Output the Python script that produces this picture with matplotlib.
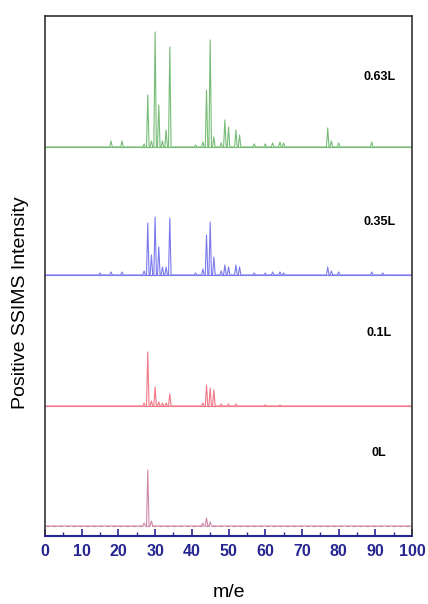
import matplotlib.pyplot as plt
import numpy as np

# stick spectra: m/e positions and peak heights (arbitrary units)
mz_063 = [18, 21, 27, 28, 29, 30, 31, 32, 33, 34, 41, 43, 44, 45, 46, 48, 49, 50, 52, 53, 57, 60, 62, 64, 65, 77, 78, 80, 89]
int_063 = [6, 6, 3, 52, 6, 115, 42, 6, 17, 100, 2, 5, 57, 107, 10, 4, 27, 20, 17, 12, 3, 3, 4, 5, 4, 19, 6, 4, 5]

mz_035 = [15, 18, 21, 27, 28, 29, 30, 31, 32, 33, 34, 41, 43, 44, 45, 46, 48, 49, 50, 52, 53, 57, 60, 62, 64, 65, 77, 78, 80, 89, 92]
int_035 = [2, 3, 3, 4, 52, 20, 58, 28, 8, 8, 57, 2, 6, 40, 53, 18, 4, 10, 8, 10, 8, 2, 2, 3, 3, 2, 8, 4, 3, 3, 2]

mz_01 = [27, 28, 29, 30, 31, 32, 33, 34, 43, 44, 45, 46, 48, 50, 52, 60, 64]
int_01 = [3, 54, 5, 19, 4, 3, 3, 12, 3, 21, 18, 16, 2, 2, 2, 1, 1]

mz_0 = [27, 28, 29, 43, 44, 45]
int_0 = [3, 56, 5, 3, 8, 4]

labels = ["0L", "0.1L", "0.35L", "0.63L"]
offsets = [10, 130, 261, 389]
label_y = [83, 203, 314, 459]
colors = ["#d088a8", "#f07888", "#7a7aee", "#78bc78"]
spectra = [(mz_0, int_0), (mz_01, int_01), (mz_035, int_035), (mz_063, int_063)]


def stick_line(mz, inten, base, w=0.35):
    xs, ys = [0.0], [base]
    for m, h in sorted(zip(mz, inten)):
        xs += [m - w, m, m + w]
        ys += [base, base + h, base]
    xs.append(100.0)
    ys.append(base)
    return np.array(xs), np.array(ys)


def main() -> None:
    plt.rcParams["font.family"] = ["Liberation Sans", "DejaVu Sans"]
    fig = plt.figure(figsize=(4.28, 6.04), dpi=100)
    ax = fig.add_axes([0.105, 0.1126, 0.858, 0.861])

    for (mz, inten), base, col, lab, ly in zip(spectra, offsets, colors, labels, label_y):
        xs, ys = stick_line(mz, inten, base)
        ls = (0, (4, 2)) if lab == "0L" else "-"
        ax.plot([0, 100], [base, base], color=col, lw=0.8, ls=ls)
        ax.plot(xs, ys, color=col, lw=0.8)
        ax.text(91, ly, lab, fontsize=9, fontweight="bold", ha="center", va="center")

    ax.set_xlim(0, 100)
    ax.set_ylim(0, 520)
    ax.set_yticks([])
    ax.set_xticks(np.arange(0, 101, 10))
    ax.set_xticks(np.arange(5, 100, 10), minor=True)
    navy = "#262690"
    ax.tick_params(axis="x", which="major", direction="in", length=5, width=1.2,
                   colors=navy, labelsize=11.5, pad=6)
    ax.tick_params(axis="x", which="minor", direction="in", length=3, width=1, colors=navy)
    for t in ax.get_xticklabels():
        t.set_fontweight("bold")
    ax.spines["bottom"].set_color(navy)
    ax.spines["bottom"].set_linewidth(1.5)
    for s in ["left", "right", "top"]:
        ax.spines[s].set_color("#333333")
        ax.spines[s].set_linewidth(1.2)

    ax.set_xlabel("m/e", fontsize=14, labelpad=18)
    fig.text(0.047, 1 - 303 / 604, "Positive SSIMS Intensity", rotation=90,
             fontsize=14, ha="center", va="center")

    fig.savefig("out.png", dpi=100)


if __name__ == "__main__":
    main()
